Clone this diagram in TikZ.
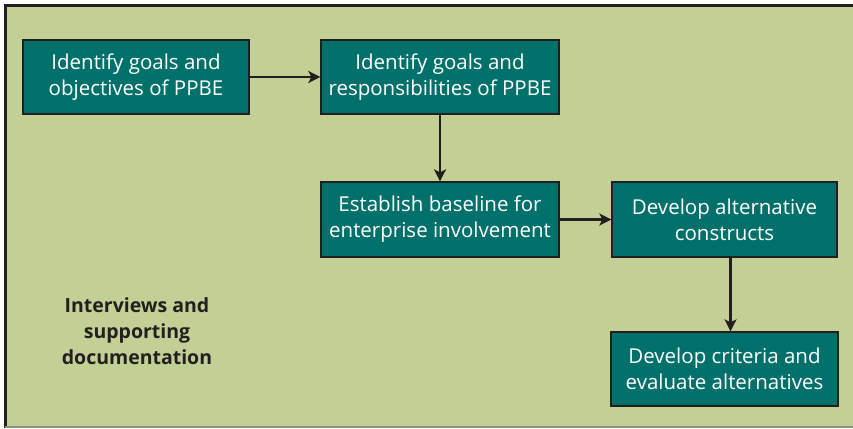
\documentclass[tikz,border=0pt]{standalone}
\usepackage{fontspec}
\setmainfont{Open Sans}
\usetikzlibrary{arrows.meta}
\definecolor{bggreen}{HTML}{C3D095}
\definecolor{teal1}{HTML}{00706B}
\definecolor{darkline}{HTML}{231F20}
\begin{document}
\begin{tikzpicture}[x=1pt,y=-1pt,
  stepbox/.style={draw=darkline,line width=1.3pt,fill=teal1,text=white,
    align=center,inner sep=0pt,font=\fontsize{20.5}{26}\selectfont},
  conn/.style={draw=darkline,line width=2.6pt,-{Stealth[length=12pt,width=12pt,inset=3pt]}}]
\useasboundingbox (0,0) rectangle (853,428);
\fill[bggreen] (5,5) rectangle (853,428);
\draw[darkline,line width=3pt] (5.5,428) -- (5.5,5.5) -- (853,5.5);
\draw[gray!80!bggreen,line width=1.5pt] (5,427) -- (853,427);
\node[stepbox,minimum width=226pt,minimum height=74pt] (b1) at (136,77) {Identify goals and\\objectives of PPBE};
\node[stepbox,minimum width=238pt,minimum height=74pt] (b2) at (440,77) {Identify goals and\\responsibilities of PPBE};
\node[stepbox,minimum width=238pt,minimum height=75pt] (b3) at (440,219.5) {Establish baseline for\\enterprise involvement};
\node[stepbox,minimum width=225pt,minimum height=75pt] (b4) at (724.5,219.5) {Develop alternative\\constructs};
\node[stepbox,minimum width=227pt,minimum height=74pt] (b5) at (724.5,369) {Develop criteria and\\evaluate alternatives};
\node[align=center,text=darkline,font=\fontsize{19.5}{26}\selectfont\bfseries] (t) at (137,331) {Interviews and\\supporting\\documentation};
\draw[conn] (b1.east) -- (b2.west);
\draw[conn] (b2.south) -- (b3.north);
\draw[conn] (b3.east) -- (b4.west);
\draw[conn] ([xshift=6pt]b4.south) -- ([xshift=6pt]b5.north);
\end{tikzpicture}
\end{document}
